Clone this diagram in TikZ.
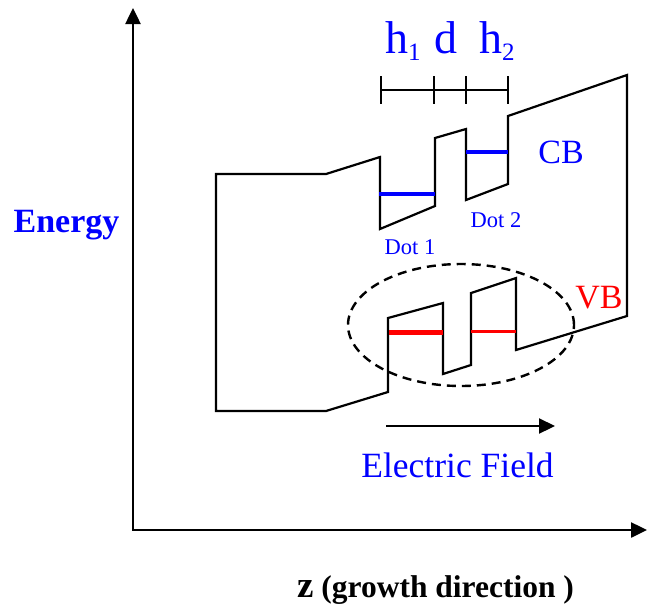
\documentclass[tikz,border=0pt]{standalone}
\usepackage{fontspec}
\setmainfont{Liberation Serif}
\usetikzlibrary{arrows.meta}
\newcommand{\lowsub}[1]{\raisebox{-7.5pt}{\fontsize{25}{25}\selectfont #1}}
\begin{document}
\begin{tikzpicture}[x=1pt, y=-1pt, line width=2.2pt, line join=miter,
  every node/.style={inner sep=0pt},
  tip/.style={-{Triangle[length=16pt,width=15pt]}}]
  \useasboundingbox (0,0) rectangle (647,608);
  % axes
  \coordinate (origin) at (133,530);
  \coordinate (ytip) at (133,8);
  \coordinate (xtip) at (647,530);
  \draw[{Triangle[length=16pt,width=15pt]}-{Triangle[length=16pt,width=15pt]}, line width=2.5pt] (ytip) -- (origin) -- (xtip);
  \node[blue, font=\fontsize{34}{34}\selectfont\bfseries, anchor=base] (energy) at (66.5,232.7) {Energy};
  \node[font=\bfseries\fontsize{31.5}{31.5}\selectfont, anchor=base west] (zlabel) at (296,597.7) {{\fontsize{37}{37}\selectfont z} (growth direction )};
  % band profile: CB on top, VB below, two dots in between
  \draw (216,174) -- (326,174) -- (380,157) -- (380,229) -- (435,206) -- (435,138) -- (466,129) -- (466,200)
    -- (508,184) -- (508,116) -- (627,75) -- (627,316) -- (516,350) -- (516,278) -- (471,293) -- (471,365)
    -- (443,374) -- (443,303) -- (388,318) -- (388,392) -- (326,411) -- (216,411) -- cycle;
  % confined levels
  \draw[blue, line width=4pt] (379,194) -- (435,194);
  \draw[blue, line width=4pt] (466,152) -- (508,152);
  \draw[red, line width=5pt] (389,332) -- (443,332);
  \draw[red, line width=3pt] (471,331) -- (516,331);
  \draw[dash pattern=on 9pt off 6pt, line width=2.4pt] (461,325) ellipse [x radius=113pt, y radius=61pt];
  \node[blue, font=\fontsize{34}{34}\selectfont, anchor=base] (cb) at (561,163.3) {CB};
  \node[red, font=\fontsize{34}{34}\selectfont, anchor=base] (vb) at (599,308.3) {VB};
  \node[blue, font=\fontsize{22.5}{22.5}\selectfont, anchor=base] (dot1) at (410,254) {Dot 1};
  \node[blue, font=\fontsize{22.5}{22.5}\selectfont, anchor=base] (dot2) at (496,227.3) {Dot 2};
  % widths scale bar
  \draw (381,90) -- (508,90);
  \foreach \x in {381,434,466,508} \draw (\x,76) -- (\x,104);
  \node[blue, font=\fontsize{46}{46}\selectfont, anchor=base west] (h1) at (384,53.3) {h\lowsub{1}};
  \node[blue, font=\fontsize{46}{46}\selectfont, anchor=base west] (dd) at (433,53.3) {d};
  \node[blue, font=\fontsize{46}{46}\selectfont, anchor=base west] (h2) at (478,53.3) {h\lowsub{2}};
  % field
  \coordinate (fstart) at (386,426);
  \coordinate (fend) at (555,426);
  \draw[tip] (fstart) -- (fend);
  \node[blue, font=\fontsize{35.5}{35.5}\selectfont, anchor=base] (field) at (457.5,477.3) {Electric Field};
\end{tikzpicture}
\end{document}
